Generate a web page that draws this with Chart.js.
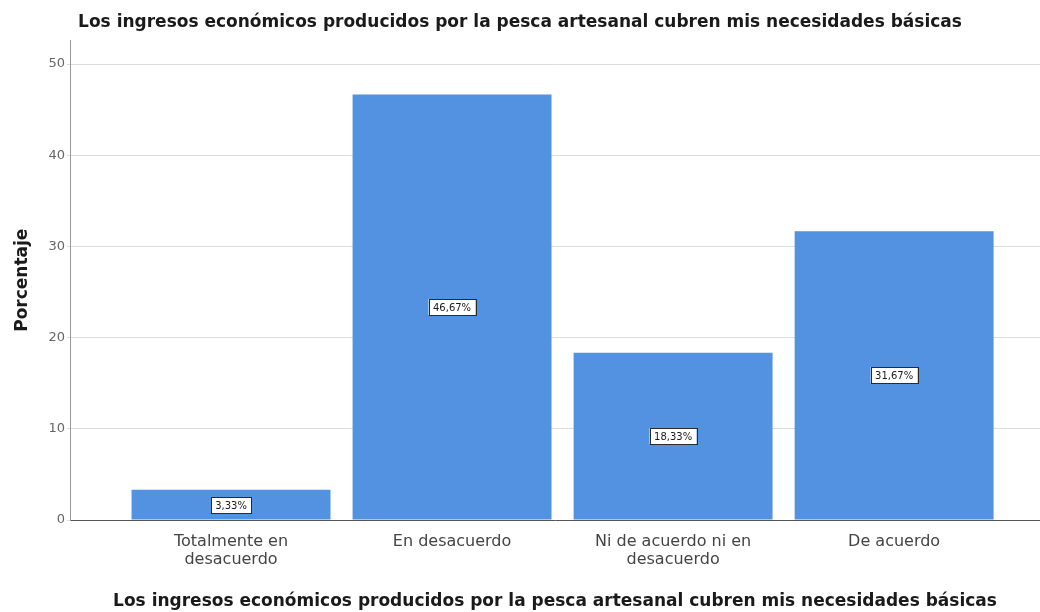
<!DOCTYPE html>
<html lang="es">

<head>
  <meta charset="UTF-8" />
  <title>Porcentaje</title>
  <script src="https://cdn.jsdelivr.net/npm/chart.js"></script>
  <style>
    html,
    body {
      margin: 0;
      padding: 0;
      background: #fff;
    }

    .chart-box {
      width: 1040px;
      height: 612px;
    }
  </style>
</head>

<body>
  <div class="chart-box">
    <canvas id="myChart"></canvas>
  </div>

  <script>
    const chartTitle = 'Los ingresos económicos producidos por la pesca artesanal cubren mis necesidades básicas';
    const categories = ['Totalmente en desacuerdo', 'En desacuerdo', 'Ni de acuerdo ni en desacuerdo', 'De acuerdo'];
    const porcentajes = [3.33, 46.67, 18.33, 31.67];
    const yTicks = [0, 10, 20, 30, 40, 50];

    // wrap long category names onto two lines, like the original
    function wrapLabel(text, maxChars) {
      const words = text.split(' ');
      const lines = [];
      let line = '';
      words.forEach(w => {
        if (line && (line + ' ' + w).length > maxChars) {
          lines.push(line);
          line = w;
        } else {
          line = line ? line + ' ' + w : w;
        }
      });
      lines.push(line);
      return lines;
    }

    // white boxed labels in the middle of each bar
    const barLabels = {
      id: 'barLabels',
      afterDatasetsDraw(chart) {
        const ctx = chart.ctx;
        const meta = chart.getDatasetMeta(0);
        ctx.save();
        ctx.font = '10px "DejaVu Sans", Verdana, sans-serif';
        ctx.textAlign = 'center';
        ctx.textBaseline = 'middle';
        meta.data.forEach((bar, i) => {
          const txt = porcentajes[i].toFixed(2).replace('.', ',') + '%';
          const cx = bar.x;
          const cy = Math.round((bar.y + bar.base) / 2);
          const w = Math.ceil(ctx.measureText(txt).width) + 8;
          const h = 16;
          ctx.fillStyle = '#fff';
          ctx.fillRect(cx - w / 2, cy - h / 2, w, h);
          ctx.strokeStyle = '#2b2b2b';
          ctx.lineWidth = 1;
          ctx.strokeRect(Math.round(cx - w / 2) + 0.5, Math.round(cy - h / 2) + 0.5, w, h);
          ctx.fillStyle = '#1a1a1a';
          ctx.fillText(txt, cx, cy + 1);
        });
        ctx.restore();
      }
    };

    new Chart(document.getElementById('myChart'), {
      type: 'bar',
      data: {
        datasets: [{
          data: porcentajes.map((v, i) => ({ x: i, y: v })),
          backgroundColor: '#5391e1',
          borderWidth: 0,
          categoryPercentage: 0.9,
          barPercentage: 1.0,
        }],
      },
      plugins: [barLabels],
      options: {
        responsive: true,
        maintainAspectRatio: false,
        animation: false,
        layout: { padding: 0 },
        plugins: {
          legend: { display: false },
          tooltip: { enabled: false },
          title: {
            display: true,
            text: chartTitle,
            color: '#1a1a1a',
            font: { family: '"DejaVu Sans", Verdana, sans-serif', size: 17, weight: 'bold' },
            padding: { top: 12, bottom: 8 },
          },
        },
        scales: {
          x: {
            type: 'linear',
            offset: false,
            min: -0.7285,
            max: 3.66,
            afterBuildTicks(scale) {
              scale.ticks = categories.map((c, i) => ({ value: i }));
            },
            afterFit(scale) {
              scale.height = 92;
            },
            ticks: {
              color: '#444',
              padding: 13,
              autoSkip: false,
              maxRotation: 0,
              font: { family: '"DejaVu Sans", Verdana, sans-serif', size: 16, lineHeight: 1.12 },
              callback: (value) => wrapLabel(categories[value], 19),
            },
            grid: { display: false, drawTicks: false },
            border: { display: true, color: '#555', width: 1 },
            title: {
              display: true,
              text: chartTitle,
              color: '#1a1a1a',
              font: { family: '"DejaVu Sans", Verdana, sans-serif', size: 17, weight: 'bold' },
              padding: { top: 0, bottom: 0 },
            },
          },
          y: {
            min: 0,
            max: 52.6,
            afterBuildTicks(scale) {
              scale.ticks = yTicks.map(v => ({ value: v }));
            },
            afterFit(scale) {
              scale.width = 70;
            },
            ticks: {
              color: '#666',
              padding: 2,
              font: { family: '"DejaVu Sans", Verdana, sans-serif', size: 13 },
            },
            grid: { color: '#dcdcdc', tickLength: 3 },
            border: { display: true, color: '#999', width: 1 },
            title: {
              display: true,
              text: 'Porcentaje',
              color: '#1a1a1a',
              font: { family: '"DejaVu Sans", Verdana, sans-serif', size: 17, weight: 'bold' },
              padding: { top: 12, bottom: 0 },
            },
          },
        },
      },
    });
  </script>
</body>

</html>
